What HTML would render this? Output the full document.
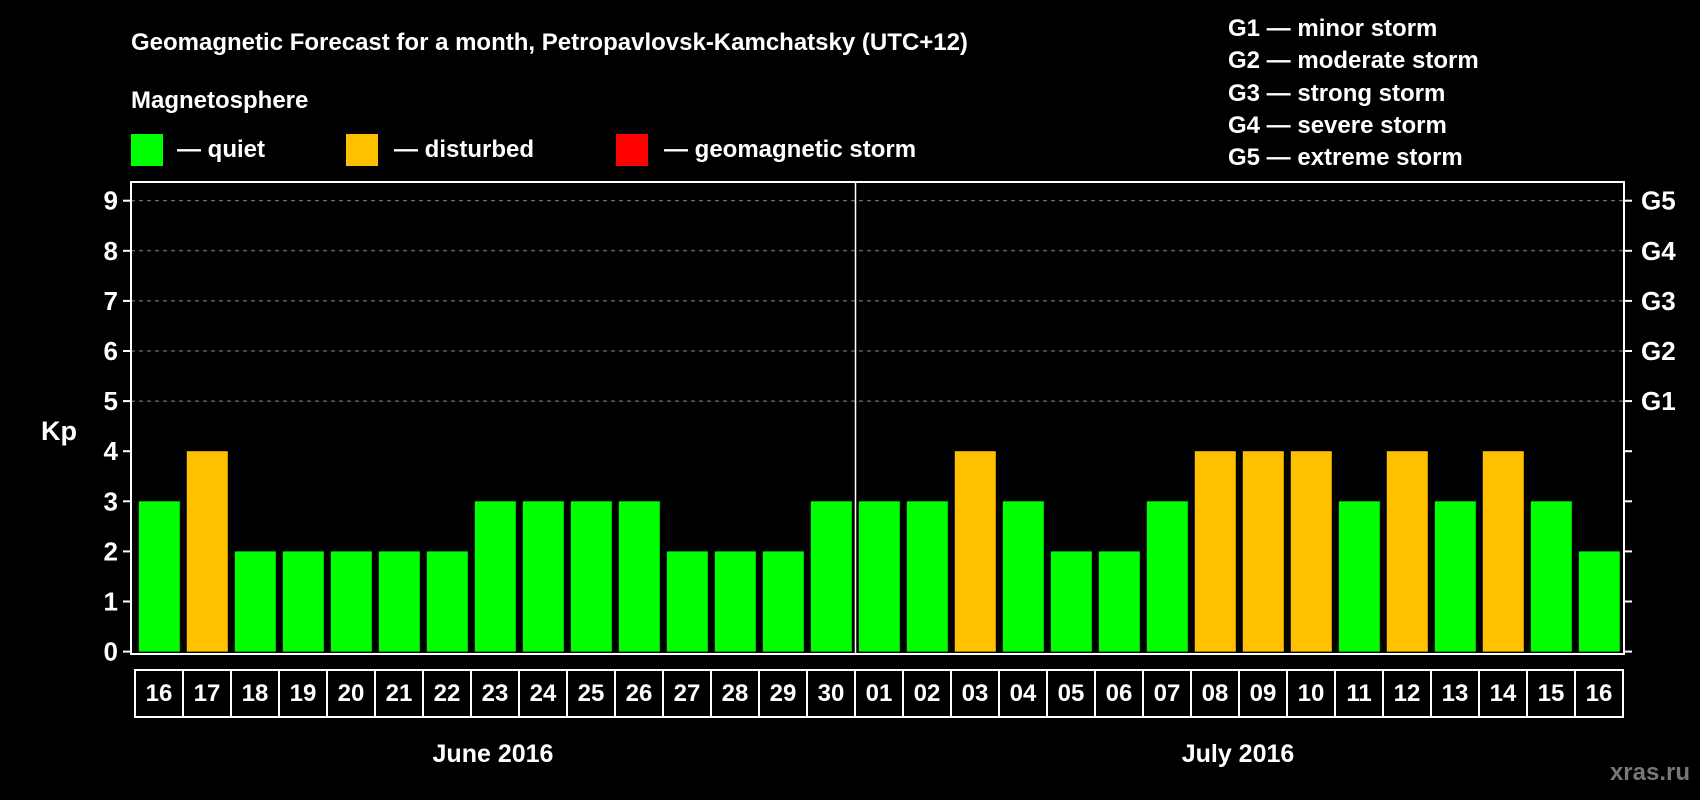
<!DOCTYPE html>
<html><head><meta charset="utf-8"><style>
html,body{margin:0;padding:0;background:#000;}
svg{display:block;font-family:"Liberation Sans",Arial,sans-serif;font-weight:bold;}
</style></head><body>
<svg id="chart" width="1700" height="800" viewBox="0 0 1700 800" xmlns="http://www.w3.org/2000/svg">
<rect x="0" y="0" width="1700" height="800" fill="#000"/>
<text x="131" y="50" fill="#fff" font-size="24">Geomagnetic Forecast for a month, Petropavlovsk-Kamchatsky (UTC+12)</text>
<text x="131" y="108" fill="#fff" font-size="24">Magnetosphere</text>
<rect x="131" y="134" width="32" height="32" fill="#00ff00"/>
<text x="177" y="157" fill="#fff" font-size="24">— quiet</text>
<rect x="346" y="134" width="32" height="32" fill="#ffc000"/>
<text x="394" y="157" fill="#fff" font-size="24">— disturbed</text>
<rect x="616" y="134" width="32" height="32" fill="#ff0000"/>
<text x="664" y="157" fill="#fff" font-size="24">— geomagnetic storm</text>
<g fill="#fff" font-size="24">
<text x="1228" y="36">G1 — minor storm</text>
<text x="1228" y="68">G2 — moderate storm</text>
<text x="1228" y="101">G3 — strong storm</text>
<text x="1228" y="133">G4 — severe storm</text>
<text x="1228" y="165">G5 — extreme storm</text>
</g>
<text x="41" y="440" fill="#fff" font-size="27">Kp</text>
<text x="493" y="762" fill="#fff" font-size="25" text-anchor="middle">June 2016</text>
<text x="1238" y="762" fill="#fff" font-size="25" text-anchor="middle">July 2016</text>
<text x="1690" y="780" fill="#777" font-size="24" text-anchor="end">xras.ru</text>
<g id="plot"></g>
</svg>
<script>
const days = ["16","17","18","19","20","21","22","23","24","25","26","27","28","29","30","01","02","03","04","05","06","07","08","09","10","11","12","13","14","15","16"];
const kpValues = [3,4,2,2,2,2,2,3,3,3,3,2,2,2,3,3,3,4,3,2,2,3,4,4,4,3,4,3,4,3,2];
const yTicks = [0,1,2,3,4,5,6,7,8,9];
const gLabels = ["G1","G2","G3","G4","G5"];
const gLevels = [5,6,7,8,9];
const monthSplitIndex = 15;

const NS = "http://www.w3.org/2000/svg";
const plot = document.getElementById("plot");
const X0 = 135, PITCH = 48, BARW = 41;
const Y0 = 651.6, UNIT = 50.1;
const FL = 131, FR = 1624, FT = 182, FB = 654;
function xBand(i){ return X0 + i*PITCH; }
function yScale(v){ return Y0 - v*UNIT; }
function mk(tag, attrs){ const e=document.createElementNS(NS,tag); for(const k in attrs) e.setAttribute(k,attrs[k]); plot.appendChild(e); return e; }
function color(v){ return v>=5 ? "#ff0000" : (v>=4 ? "#ffc000" : "#00ff00"); }

gLevels.forEach((lv,i)=>{
  const l = mk("line",{x1:FL,x2:FR,y1:yScale(lv),y2:yScale(lv),stroke:"#888","stroke-width":1,"stroke-dasharray":"4,4"});
  
  
});
yTicks.forEach(t=>{
  const y=yScale(t);
  const a=mk("line",{x1:FL-8,x2:FL,y1:y,y2:y,stroke:"#fff","stroke-width":2});
  
  
  const b=mk("line",{x1:FR,x2:FR+8,y1:y,y2:y,stroke:"#fff","stroke-width":2});
  
  
  const tx=mk("text",{x:FL-13,y:y+9,fill:"#fff","font-size":26,"text-anchor":"end"});
  tx.textContent=t;
  
  
});
gLabels.forEach((g,i)=>{
  const tx=mk("text",{x:FR+17,y:yScale(gLevels[i])+9,fill:"#fff","font-size":26});
  tx.textContent=g;
  
  
});
kpValues.forEach((v,i)=>{
  const x=xBand(i)+3.8;
  const r=mk("rect",{x:x,y:yScale(v),width:BARW,height:Y0-yScale(v),fill:color(v)});
  
  
});
const fr=mk("rect",{x:FL,y:FT,width:FR-FL,height:FB-FT,fill:"none",stroke:"#fff","stroke-width":2});


const dv=xBand(monthSplitIndex)+0.5;
const dl=mk("line",{x1:dv,x2:dv,y1:FT,y2:FB,stroke:"#fff","stroke-width":1.5});


days.forEach((d,i)=>{
  const x=xBand(i);
  const c=mk("rect",{x:x,y:670,width:PITCH,height:47,fill:"none",stroke:"#fff","stroke-width":2});
  
  
  const tx=mk("text",{x:x+PITCH/2,y:701,fill:"#fff","font-size":24,"text-anchor":"middle"});
  tx.textContent=d;
  
  
});
</script>
</body></html>
